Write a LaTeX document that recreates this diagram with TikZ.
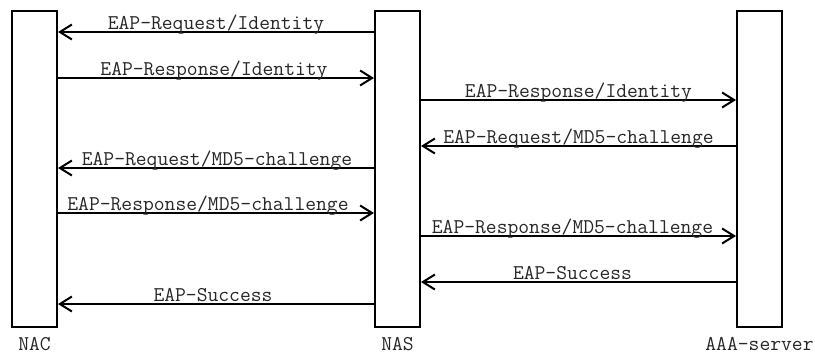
\documentclass[tikz,border=0pt]{standalone}
\usetikzlibrary{arrows.meta}
\begin{document}
\begin{tikzpicture}[x=1pt,y=-1pt,
  bar/.style={draw,line width=2pt,minimum width=45pt,minimum height=316pt,inner sep=0pt,anchor=north},
  msg/.style={line width=2pt,-{Straight Barb[length=12pt,width=15pt,line width=2pt]}},
  lbl/.style={font=\ttfamily\fontsize{21}{23}\selectfont,text=black!85,anchor=base,inner sep=0pt,yshift=3pt},
  lifename/.style={font=\ttfamily\fontsize{21}{23}\selectfont,text=black!85,anchor=base,inner sep=0pt}]
  \useasboundingbox (0,0) rectangle (815,356);
  % lifelines
  \node[bar] (nac) at (34.5,10) {};
  \node[bar] (nas) at (397.5,10) {};
  \node[bar] (aaa) at (759.5,10) {};
  \node[lifename] (nacl) at (34.5,350) {NAC};
  \node[lifename] (nasl) at (397.5,350) {NAS};
  \node[lifename] (aaal) at (759.5,350) {AAA-server};
  % messages
  \draw[msg] (nas.west |- 0,32) -- node[lbl]{EAP-Request/Identity} (nac.east |- 0,32);
  \draw[msg] (nac.east |- 0,78) -- node[lbl,xshift=-2pt]{EAP-Response/Identity} (nas.west |- 0,78);
  \draw[msg] (nas.east |- 0,100) -- node[lbl]{EAP-Response/Identity} (aaa.west |- 0,100);
  \draw[msg] (aaa.west |- 0,146) -- node[lbl]{EAP-Request/MD5-challenge} (nas.east |- 0,146);
  \draw[msg] (nas.west |- 0,168) -- node[lbl,xshift=1pt]{EAP-Request/MD5-challenge} (nac.east |- 0,168);
  \draw[msg] (nac.east |- 0,213) -- node[lbl,xshift=-8pt]{EAP-Response/MD5-challenge} (nas.west |- 0,213);
  \draw[msg] (nas.east |- 0,236) -- node[lbl,xshift=-6pt]{EAP-Response/MD5-challenge} (aaa.west |- 0,236);
  \draw[msg] (aaa.west |- 0,282) -- node[lbl,xshift=-6pt]{EAP-Success} (nas.east |- 0,282);
  \draw[msg] (nas.west |- 0,304) -- node[lbl,xshift=-3pt]{EAP-Success} (nac.east |- 0,304);
\end{tikzpicture}
\end{document}
